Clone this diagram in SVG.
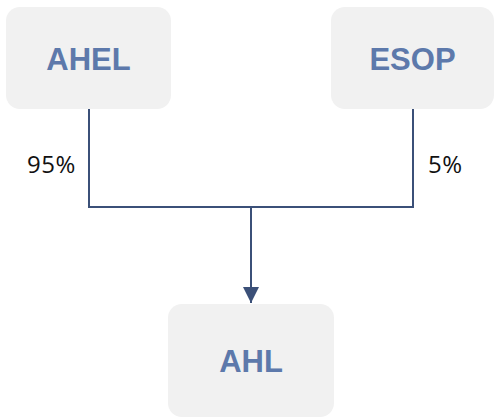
<svg xmlns="http://www.w3.org/2000/svg" width="495" height="417" viewBox="0 0 495 417">
  <style>
    .box { fill: #f1f1f1; }
    .name { font-family: "Liberation Sans", Arial, sans-serif; font-weight: bold; font-size: 31px; fill: #5d79ab; text-anchor: middle; }
    .pct { font-family: "Open Sans", "Lato", sans-serif; font-weight: 400; font-size: 24px; letter-spacing: 0.5px; fill: #111; }
    .wire { fill: none; stroke: #3b5078; stroke-width: 2; }
  </style>
  <defs>
    <marker id="arrow" markerWidth="16" markerHeight="16" viewBox="0 0 16 16" refX="16" refY="8" orient="auto" markerUnits="userSpaceOnUse">
      <path d="M0,0 L16,8 L0,16 Z" fill="#3b5078"/>
    </marker>
  </defs>
  <g id="connectors">
    <path class="wire" d="M89,109 V207 H413 V109"/>
    <path class="wire" d="M251,207 V303" marker-end="url(#arrow)"/>
    <text class="pct" x="27" y="173">95%</text>
    <text class="pct" x="428" y="173">5%</text>
  </g>
  <g id="ahel">
    <rect class="box" x="6" y="7" width="165" height="102" rx="14"/>
    <text class="name" x="88.5" y="70">AHEL</text>
  </g>
  <g id="esop">
    <rect class="box" x="331" y="7" width="163" height="102" rx="14"/>
    <text class="name" x="412.5" y="70">ESOP</text>
  </g>
  <g id="ahl">
    <rect class="box" x="168" y="304" width="166" height="113" rx="14"/>
    <text class="name" x="251" y="372">AHL</text>
  </g>
</svg>
